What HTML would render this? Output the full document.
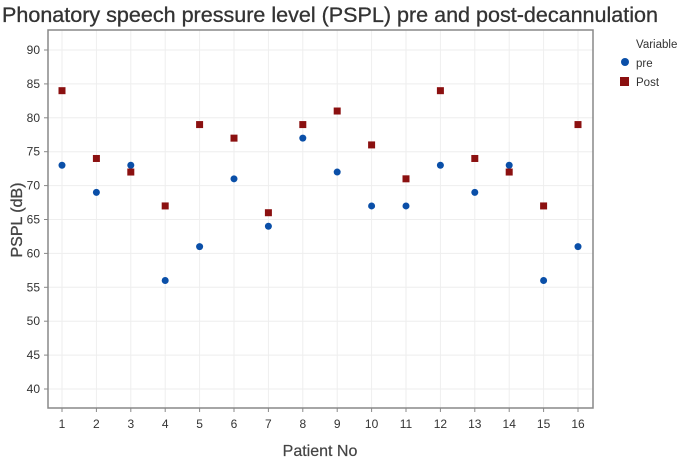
<!DOCTYPE html>
<html><head><meta charset="utf-8"><style>
body{margin:0;background:#fff;}
svg text{font-family:"Liberation Sans",sans-serif;}
</style></head><body>
<svg id="c" width="685" height="458" xmlns="http://www.w3.org/2000/svg">
<text x="2" y="22" font-size="21" fill="#333" stroke="#333" stroke-width="0.3" textLength="656" lengthAdjust="spacingAndGlyphs">Phonatory speech pressure level (PSPL) pre and post-decannulation</text>
<g id="grid"></g>
<rect x="48" y="30" width="545" height="378" fill="none" stroke="#888" stroke-width="1.5"/>
<g id="axes"></g>
<g id="marks"></g>
<text x="22" y="220" font-size="16" fill="#444" stroke="#444" stroke-width="0.3" text-anchor="middle" transform="rotate(-90 22 220)">PSPL (dB)</text>
<text x="320" y="456" font-size="16" fill="#444" stroke="#444" stroke-width="0.2" text-anchor="middle">Patient No</text>
<g>
<text x="636" y="48" font-size="11.5" fill="#333">Variable</text>
<circle cx="625" cy="62" r="4" fill="#0a4fa8"/>
<text x="636" y="67" font-size="11.5" fill="#333">pre</text>
<rect x="620" y="77" width="9" height="9" fill="#8b1010"/>
<text x="636" y="86" font-size="11.5" fill="#333">Post</text>
</g>
</svg>
<script>
const patients=[1,2,3,4,5,6,7,8,9,10,11,12,13,14,15,16];
const preValues=[73,69,73,56,61,71,64,77,72,67,67,73,69,73,56,61];
const postValues=[84,74,72,67,79,77,66,79,81,76,71,84,74,72,67,79];
const yTicks=[40,45,50,55,60,65,70,75,80,85,90];
const NS='http://www.w3.org/2000/svg';
const xs=p=>62+(p-1)*34.4;
const ys=v=>389-(v-40)*6.78;
function mk(t,a,parent){const e=document.createElementNS(NS,t);for(const k in a)e.setAttribute(k,a[k]);document.getElementById(parent).appendChild(e);return e;}
yTicks.forEach(v=>{
  const g=mk('line',{x1:48,x2:593,y1:ys(v),y2:ys(v),stroke:'#eee','stroke-width':1},'grid');
  
  
  const t=mk('line',{x1:44,x2:48,y1:ys(v),y2:ys(v),stroke:'#888'},'axes');
  
  
  const l=mk('text',{x:40,y:ys(v)+4,'font-size':12,fill:'#333','text-anchor':'end'},'axes');
  l.textContent=v;
  
  
});
patients.forEach((p,i)=>{
  const g=mk('line',{x1:xs(p),x2:xs(p),y1:30,y2:408,stroke:'#eee','stroke-width':1},'grid');
  
  
  const t=mk('line',{x1:xs(p),x2:xs(p),y1:408,y2:412,stroke:'#888'},'axes');
  
  
  const l=mk('text',{x:xs(p),y:428,'font-size':12,fill:'#333','text-anchor':'middle'},'axes');
  l.textContent=p;
  
  
  const c=mk('circle',{cx:xs(p),cy:ys(preValues[i]),r:3.5,fill:'#0a4fa8'},'marks');
  
  
  const r=mk('rect',{x:xs(p)-3.5,y:ys(postValues[i])-3.5,width:7,height:7,fill:'#8b1010'},'marks');
  
  
});
</script>
</body></html>
